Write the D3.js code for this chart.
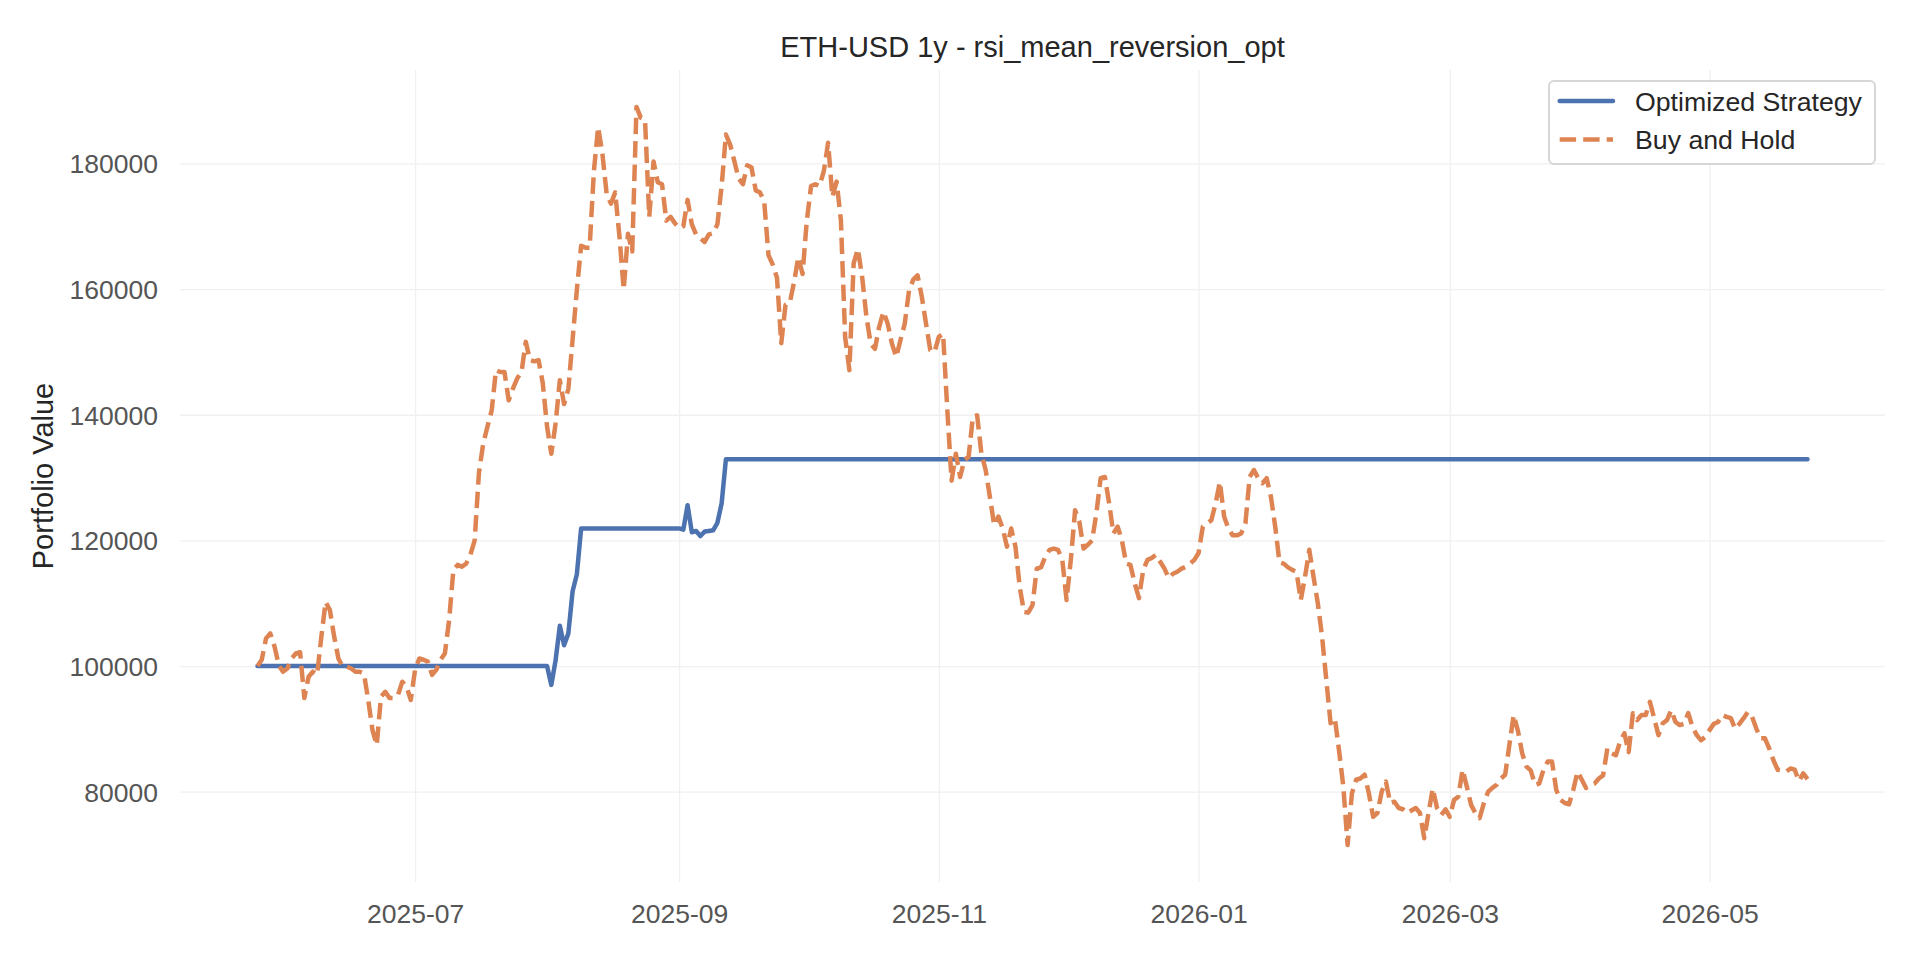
<!DOCTYPE html>
<html>
<head>
<meta charset="utf-8">
<script src="https://cdn.jsdelivr.net/npm/d3@7"></script>
<style>
  html, body { margin: 0; padding: 0; background: #fff; }
  svg { display: block; font-family: "Liberation Sans", Arial, sans-serif; }
  .axis .tick text { fill: #555; font-size: 26.5px; }
  .axis .domain, .grid .domain { display: none; }
  .grid line { stroke: #f0f0f0; stroke-width: 1.3; }
</style>
</head>
<body>
<div id="ChartContainer"></div>
<script>
// daily closes, one value per day from startDate
var startDate = "2025-05-25"
var seriesNames = ["Optimized Strategy", "Buy and Hold"]

var strategyValues = [
  100000, 100000, 100000, 100000, 100000, 100000, 100000, 100000, 100000, 100000,
  100000, 100000, 100000, 100000, 100000, 100000, 100000, 100000, 100000, 100000,
  100000, 100000, 100000, 100000, 100000, 100000, 100000, 100000, 100000, 100000,
  100000, 100000, 100000, 100000, 100000, 100000, 100000, 100000, 100000, 100000,
  100000, 100000, 100000, 100000, 100000, 100000, 100000, 100000, 100000, 100000,
  100000, 100000, 100000, 100000, 100000, 100000, 100000, 100000, 100000, 100000,
  100000, 100000, 100000, 100000, 100000, 100000, 100000, 100000, 100000, 97000,
  100900, 106400, 103300, 105200, 111900, 114600, 121900, 121900, 121900, 121900,
  121900, 121900, 121900, 121900, 121900, 121900, 121900, 121900, 121900, 121900,
  121900, 121900, 121900, 121900, 121900, 121900, 121900, 121900, 121900, 121900,
  121700, 125600, 121300, 121500, 120700, 121400, 121500, 121600, 122800, 125900,
  132900, 132900, 132900, 132900, 132900, 132900, 132900, 132900, 132900, 132900,
  132900, 132900, 132900, 132900, 132900, 132900, 132900, 132900, 132900, 132900,
  132900, 132900, 132900, 132900, 132900, 132900, 132900, 132900, 132900, 132900,
  132900, 132900, 132900, 132900, 132900, 132900, 132900, 132900, 132900, 132900,
  132900, 132900, 132900, 132900, 132900, 132900, 132900, 132900, 132900, 132900,
  132900, 132900, 132900, 132900, 132900, 132900, 132900, 132900, 132900, 132900,
  132900, 132900, 132900, 132900, 132900, 132900, 132900, 132900, 132900, 132900,
  132900, 132900, 132900, 132900, 132900, 132900, 132900, 132900, 132900, 132900,
  132900, 132900, 132900, 132900, 132900, 132900, 132900, 132900, 132900, 132900,
  132900, 132900, 132900, 132900, 132900, 132900, 132900, 132900, 132900, 132900,
  132900, 132900, 132900, 132900, 132900, 132900, 132900, 132900, 132900, 132900,
  132900, 132900, 132900, 132900, 132900, 132900, 132900, 132900, 132900, 132900,
  132900, 132900, 132900, 132900, 132900, 132900, 132900, 132900, 132900, 132900,
  132900, 132900, 132900, 132900, 132900, 132900, 132900, 132900, 132900, 132900,
  132900, 132900, 132900, 132900, 132900, 132900, 132900, 132900, 132900, 132900,
  132900, 132900, 132900, 132900, 132900, 132900, 132900, 132900, 132900, 132900,
  132900, 132900, 132900, 132900, 132900, 132900, 132900, 132900, 132900, 132900,
  132900, 132900, 132900, 132900, 132900, 132900, 132900, 132900, 132900, 132900,
  132900, 132900, 132900, 132900, 132900, 132900, 132900, 132900, 132900, 132900,
  132900, 132900, 132900, 132900, 132900, 132900, 132900, 132900, 132900, 132900,
  132900, 132900, 132900, 132900, 132900, 132900, 132900, 132900, 132900, 132900,
  132900, 132900, 132900, 132900, 132900, 132900, 132900, 132900, 132900, 132900,
  132900, 132900, 132900, 132900, 132900, 132900, 132900, 132900, 132900, 132900,
  132900, 132900, 132900, 132900, 132900, 132900, 132900, 132900, 132900, 132900,
  132900, 132900, 132900, 132900, 132900, 132900, 132900, 132900, 132900, 132900,
  132900, 132900, 132900, 132900, 132900
]

var buyHoldValues = [
  100000, 101000, 104400, 105200, 103100, 100100, 99100, 99600, 101200, 102000,
  102200, 94900, 98300, 99100, 98600, 104700, 110200, 108900, 104700, 101200,
  99900, 99900, 99600, 99100, 99100, 98800, 94600, 89800, 87400, 95100,
  95900, 94900, 94900, 95400, 97500, 96700, 94600, 99400, 101200, 101000,
  100700, 98600, 99400, 101000, 102000, 107300, 115300, 116100, 115800, 116300,
  117700, 120000, 130700, 135400, 138100, 140700, 147100, 146800, 146800, 142300,
  144200, 145800, 146800, 151600, 148700, 148500, 148700, 145000, 138100, 133800,
  138600, 145500, 141700, 144100, 152000, 159900, 166900, 166600, 166600, 178800,
  185800, 181500, 175100, 173600, 175400, 168400, 159900, 168800, 166000, 189000,
  187300, 187000, 171500, 180300, 177000, 176700, 170900, 171500, 170500, 169700,
  170000, 174200, 170300, 168700, 168100, 167500, 168700, 168900, 170300, 176400,
  184600, 183000, 180300, 177600, 176700, 179700, 179400, 175700, 175400, 173900,
  165400, 163900, 161800, 151400, 157500, 157800, 161100, 165100, 162400, 170900,
  176400, 176700, 176400, 178800, 183300, 174700, 177100, 171000, 152400, 147100,
  164100, 166400, 161900, 155600, 151300, 150500, 154000, 156400, 154500, 151300,
  149200, 151900, 154500, 159800, 161500, 162200, 158800, 154500, 150300, 150000,
  152400, 152900, 140700, 129500, 133800, 130100, 132800, 133300, 139700, 139900,
  133800, 131200, 126900, 122400, 123800, 121900, 119000, 121900, 119000, 112600,
  108600, 108500, 109700, 115500, 115700, 117400, 118500, 118700, 118500, 116900,
  110500, 116900, 124800, 123000, 118700, 119300, 120000, 124300, 129900, 130100,
  125900, 121100, 122200, 120000, 116300, 116100, 113200, 110800, 115300, 116900,
  117200, 117700, 116600, 115500, 114000, 114700, 115000, 115500, 115800, 116300,
  116900, 118000, 122200, 122700, 123200, 125900, 129300, 123800, 121900, 120800,
  120800, 121100, 122700, 130100, 131200, 129900, 129100, 129900, 126900, 122200,
  116500, 116300, 115700, 115300, 115000, 110500, 114200, 118500, 114200, 110000,
  104700, 97800, 90900, 91700, 86500, 80800, 71500, 79700, 81900, 82100,
  82700, 79700, 76000, 76600, 80000, 81600, 78200, 78400, 77400, 77200,
  76600, 77000, 77400, 76600, 72600, 76600, 80500, 77400, 76300, 77200,
  76000, 78700, 79200, 83500, 80800, 77900, 76600, 75800, 78200, 80000,
  80600, 81100, 82100, 82700, 87500, 92200, 89700, 86100, 84000, 83400,
  81100, 81300, 83500, 84800, 84800, 80300, 78700, 78200, 78000, 80300,
  83200, 81900, 80600, 81000, 81300, 82100, 82600, 86900, 86100, 85800,
  88000, 89300, 86300, 92500, 91400, 92200, 92200, 94300, 91700, 89000,
  90900, 91400, 93000, 91100, 90600, 90800, 92500, 90300, 89000, 88200,
  88700, 89800, 90800, 91100, 92200, 91900, 91700, 90000, 90800, 91700,
  92700, 91900, 90000, 88500, 88500, 86900, 85000, 83500, 83400, 83200,
  83700, 83500, 81700, 82900, 82000
]

var yTicks = [80000, 100000, 120000, 140000, 160000, 180000]
var xTickLabels = ["2025-07", "2025-09", "2025-11", "2026-01", "2026-03", "2026-05"]

var fullWidth = 1920
var fullHeight = 960
var margin = {
  top: 70,
  right: 35,
  bottom: 78,
  left: 180,
}
var width = fullWidth - margin.left - margin.right
var height = fullHeight - margin.top - margin.bottom

var day0 = d3.timeParse("%Y-%m-%d")(startDate)
var dates = buyHoldValues.map((v, i) => d3.timeDay.offset(day0, i))
var tickDates = xTickLabels.map(d3.timeParse("%Y-%m"))

var series = [
  {name: seriesNames[0], values: strategyValues, color: "#4C72B0", dash: null},
  {name: seriesNames[1], values: buyHoldValues, color: "#DD8452", dash: "16.4,7.1"},
]

var svg = d3.select("#ChartContainer").append("svg")
  .attr("width", fullWidth)
  .attr("height", fullHeight)

svg.append("rect")
  .attr("width", fullWidth)
  .attr("height", fullHeight)
  .attr("fill", "#fff")

var g = svg.append("g")
  .attr("transform", `translate(${margin.left},${margin.top})`)

// matplotlib style 5% margins around the data
var xExtent = d3.extent(dates)
var xPad = (xExtent[1] - xExtent[0]) * 0.05
var x = d3.scaleTime()
  .domain([new Date(+xExtent[0] - xPad), new Date(+xExtent[1] + xPad)])
  .range([0, width])

var allValues = strategyValues.concat(buyHoldValues)
var yMin = d3.min(allValues)
var yMax = d3.max(allValues)
var yPad = (yMax - yMin) * 0.05
var y = d3.scaleLinear()
  .domain([yMin - yPad, yMax + yPad])
  .range([height, 0])

// grid
g.append("g")
  .attr("class", "grid")
  .attr("transform", `translate(0,${height})`)
  .call(d3.axisBottom(x).tickValues(tickDates).tickSize(-height).tickFormat(""))

g.append("g")
  .attr("class", "grid")
  .call(d3.axisLeft(y).tickValues(yTicks).tickSize(-width).tickFormat(""))

// x-axis
g.append("g")
  .attr("class", "axis axis-x")
  .attr("transform", `translate(0,${height})`)
  .call(d3.axisBottom(x)
    .tickValues(tickDates)
    .tickSize(0)
    .tickPadding(22)
    .tickFormat((d, i) => xTickLabels[i]))

// y-axis
g.append("g")
  .attr("class", "axis axis-y")
  .call(d3.axisLeft(y)
    .tickValues(yTicks)
    .tickSize(0)
    .tickPadding(22)
    .tickFormat(d3.format("d")))
  .selectAll("text")
  .attr("dy", "0.36em")

// lines
var line = d3.line()
  .x((d, i) => x(dates[i]))
  .y(d => y(d))

series.forEach(s => {
  g.append("path")
    .datum(s.values)
    .attr("fill", "none")
    .attr("stroke", s.color)
    .attr("stroke-width", 4.5)
    .attr("stroke-linejoin", "round")
    .attr("stroke-linecap", s.dash ? "butt" : "round")
    .attr("stroke-dasharray", s.dash)
    .attr("d", line)
})

// title
g.append("text")
  .attr("x", width / 2)
  .attr("y", -13)
  .attr("text-anchor", "middle")
  .attr("font-size", "29px")
  .attr("fill", "#262626")
  .text("ETH-USD 1y - rsi_mean_reversion_opt")

// y-axis label
g.append("text")
  .attr("transform", "rotate(-90)")
  .attr("x", -height / 2)
  .attr("y", -127)
  .attr("text-anchor", "middle")
  .attr("font-size", "29px")
  .attr("fill", "#262626")
  .text("Portfolio Value")

// legend
var legend = svg.append("g")
  .attr("transform", "translate(1549,81)")

legend.append("rect")
  .attr("width", 326)
  .attr("height", 83)
  .attr("rx", 5)
  .attr("ry", 5)
  .attr("fill", "#fff")
  .attr("fill-opacity", 0.8)
  .attr("stroke", "#d6d6d6")
  .attr("stroke-width", 2)

var items = legend.selectAll(".LegendItem")
  .data(series)
  .enter().append("g")
  .attr("class", "LegendItem")
  .attr("transform", (d, i) => `translate(0,${20 + i * 38.6})`)

items.append("line")
  .attr("x1", 10.7)
  .attr("x2", 64)
  .attr("stroke", d => d.color)
  .attr("stroke-width", 4.5)
  .attr("stroke-linecap", d => d.dash ? "butt" : "round")
  .attr("stroke-dasharray", d => d.dash)

items.append("text")
  .attr("x", 86)
  .attr("dy", "0.36em")
  .attr("font-size", "26.7px")
  .attr("fill", "#262626")
  .text(d => d.name)
</script>
</body>
</html>
